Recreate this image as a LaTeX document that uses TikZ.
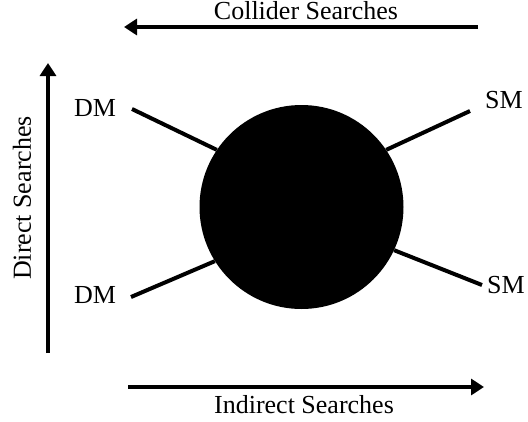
\documentclass[tikz,border=0pt]{standalone}
\usepackage{fontspec}
\setmainfont{Liberation Serif}
\usetikzlibrary{arrows.meta}

\tikzset{
  axisarrow/.style={line width=3.5pt,-{Triangle[length=13pt,width=16pt]}},
  leg/.style={line width=4pt},
  lbl/.style={font=\fontsize{26}{30}\selectfont,inner sep=0pt}
}

\begin{document}
\begin{tikzpicture}[x=1pt,y=-1pt]
	\useasboundingbox (0,0) rectangle (528,421);
	% collider arrow (top)
	\coordinate (ctail) at (478,27);
	\coordinate (chead) at (124,27);
	\draw [axisarrow] (ctail) -- (chead);
	\node [lbl,anchor=base] (collider) at (306,19){Collider Searches};
	% indirect arrow (bottom)
	\coordinate (itail) at (128,387);
	\coordinate (ihead) at (484,387);
	\draw [axisarrow] (itail) -- (ihead);
	\node [lbl,anchor=base] (indirect) at (304,413){Indirect Searches};
	% direct arrow (left)
	\coordinate (dtail) at (48,353);
	\coordinate (dhead) at (48,63);
	\draw [axisarrow] (dtail) -- (dhead);
	\node [lbl,rotate=90] (direct) at (22,198){Direct Searches};
	% the blob
	\node [circle,fill=black,minimum size=204pt,inner sep=0pt] (blob) at (301.5,207){};
	% legs
	\node [lbl] (dmtop) at (95,108){DM};
	\node [lbl] (dmbot) at (95,295){DM};
	\node [lbl] (smtop) at (504,100){SM};
	\node [lbl] (smbot) at (506,285){SM};
	\coordinate (dmtopend) at (132,109);
	\coordinate (dmbotend) at (131,297);
	\coordinate (smtopend) at (470,111);
	\coordinate (smbotend) at (482,285);
	\draw [leg] (dmtopend) -- (blob.146);
	\draw [leg] (dmbotend) -- (blob.212);
	\draw [leg] (smtopend) -- (blob.34);
	\draw [leg] (smbotend) -- (blob.335);
\end{tikzpicture}
\end{document}
